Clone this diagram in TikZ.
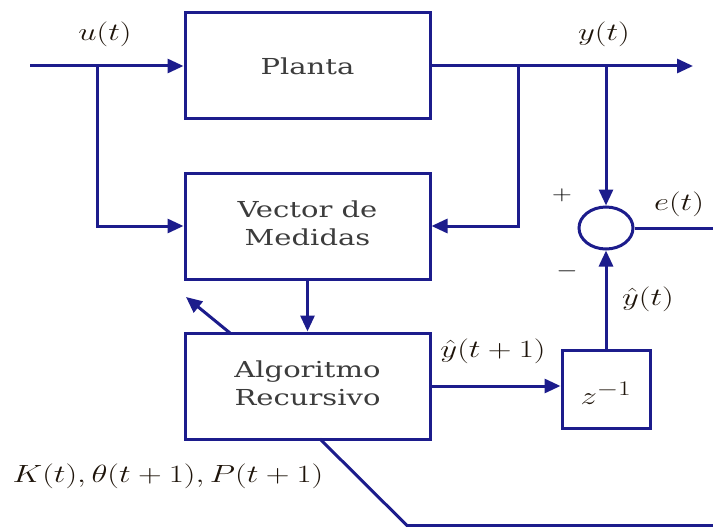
\documentclass[tikz,border=0pt]{standalone}
\usepackage{fontspec}
\setmainfont{DejaVu Serif}
\usetikzlibrary{arrows.meta,shapes.geometric}
\definecolor{navy}{RGB}{28,28,140}
\definecolor{boxtxt}{RGB}{60,60,60}
\definecolor{mathtxt}{RGB}{30,20,10}
\newcommand{\stretchx}[1]{\scalebox{1.32}[1]{#1}}
\newcommand{\twolines}[2]{\stretchx{\begin{tabular}{@{}c@{}}#1\\[-1pt]#2\end{tabular}}}
\begin{document}
\begin{tikzpicture}[x=1pt,y=-1pt,
  line width=3pt,
  conn/.style={draw=navy, line width=3pt},
  arr/.style={conn, -{Triangle[length=16pt,width=14pt]}},
  blockbox/.style={draw=navy, line width=3pt, rectangle, inner sep=0pt,
    text=boxtxt, font=\fontsize{22}{29}\selectfont},
  sumnode/.style={draw=navy, line width=3pt, ellipse, inner sep=0pt,
    minimum width=54pt, minimum height=42pt},
  mlabel/.style={text=mathtxt, inner sep=0pt, font=\fontsize{25}{30}\selectfont},
  sign/.style={text=black, inner sep=0pt, font=\fontsize{20}{24}\selectfont}]
\useasboundingbox (0,0) rectangle (713,527);
% blocks
\node[blockbox, minimum width=245pt, minimum height=106pt] (planta) at (307.5,66) {\stretchx{Planta}};
\node[blockbox, minimum width=245pt, minimum height=106pt] (vector) at (307.5,226) {\twolines{Vector de}{Medidas}};
\node[blockbox, minimum width=245pt, minimum height=106pt] (algo) at (307.5,386) {\twolines{Algoritmo}{Recursivo}};
\node[blockbox, minimum width=88pt, minimum height=78pt] (z) at (606,389) {};
\node[mlabel, font=\fontsize{30}{34}\selectfont] (zlab) at (606,393) {\stretchx{$z^{-1}$}};
\node[sumnode] (sum) at (606,228) {};
% coordinates
\coordinate (in) at (30,66);
\coordinate (b1) at (97,66);
\coordinate (b2) at (518,66);
\coordinate (b3) at (606,66);
\coordinate (out) at (693,66);
\coordinate (eout) at (713,228);
\coordinate (d1) at (230,333);
\coordinate (d2) at (186,297);
\coordinate (d3) at (320,439);
\coordinate (d4) at (407,525.5);
\coordinate (d5) at (713,525.5);
% connectors
\draw[arr] (in) -- (planta.west);
\draw[arr] (b1) |- (vector.west);
\draw[arr] (planta.east) -- (out);
\draw[arr] (b2) |- (vector.east);
\draw[arr] (b3) -- (sum.north);
\draw[conn] (sum.east) -- (eout);
\draw[arr] (vector.south) -- (algo.north);
\draw[arr] (d1) -- (d2);
\draw[arr] (algo.east) -- (algo.east -| z.west);
\draw[arr] (z.north) -- (sum.south);
\draw[conn] (d3) -- (d4) -- (d5);
% labels
\node[mlabel] (ulab) at (105,34) {\stretchx{$u(t)$}};
\node[mlabel] (ylab) at (604,34) {\stretchx{$y(t)$}};
\node[mlabel] (elab) at (679,204) {\stretchx{$e(t)$}};
\node[sign] (plus) at (562,195) {\stretchx{$+$}};
\node[sign] (minus) at (567,271) {\stretchx{$-$}};
\node[mlabel] (yhlab) at (648,299) {\stretchx{$\hat{y}(t)$}};
\node[mlabel] (yh1lab) at (493,351) {\stretchx{$\hat{y}(t+1)$}};
\node[mlabel] (klab) at (168,476) {\stretchx{$K(t),\theta(t+1),P(t+1)$}};
\end{tikzpicture}
\end{document}
